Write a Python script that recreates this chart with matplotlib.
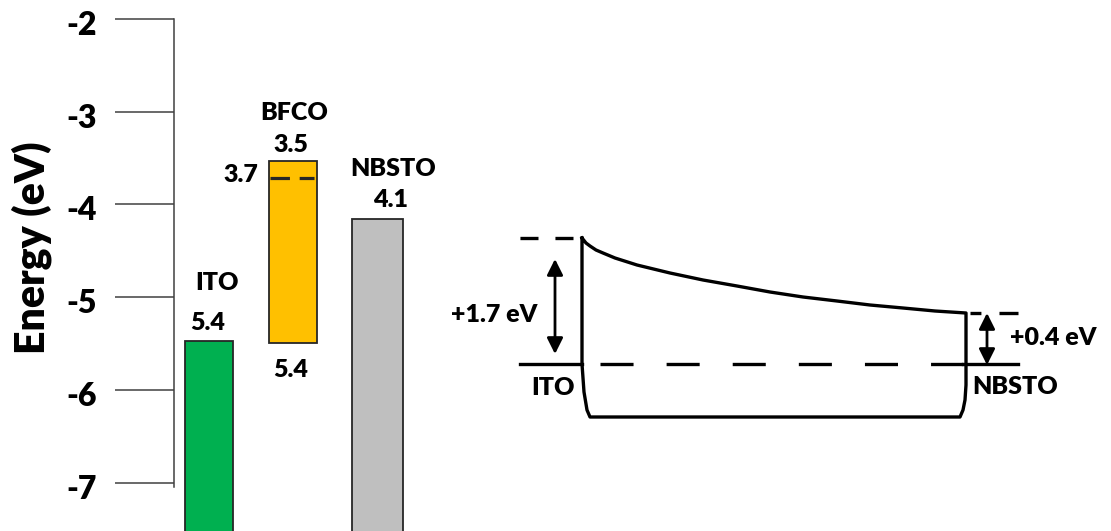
import matplotlib
matplotlib.use('Agg')
import matplotlib.pyplot as plt
from matplotlib.transforms import ScaledTranslation

plt.rcParams['font.family'] = ['Lato', 'DejaVu Sans']
plt.rcParams['font.weight'] = 'heavy'
plt.rcParams['axes.unicode_minus'] = False
plt.rcParams['lines.scale_dashes'] = False

# ---- energy-level diagram data (eV)
materials = ['ITO', 'BFCO', 'NBSTO']
level_top = [-5.47, -3.53, -4.16]
level_bottom = [-7.9, -5.49, -7.9]
bar_colors = ['#00B050', '#FFC000', '#BFBFBF']
bfco_fermi = -3.72
top_labels = ['5.4', '3.5', '4.1']
yticks = [-7, -6, -5, -4, -3, -2]

# ---- band sketch (pixel frame of the figure)
band_x = [582, 586, 590, 596, 603, 615, 637, 670, 703, 737, 770, 803, 837, 870, 903, 935, 966,
          966, 965, 963, 960, 590, 587, 584, 582, 582]
band_y = [238, 243, 246, 250, 253, 258, 265, 273, 280, 286, 292, 297, 301, 305, 308, 311, 313,
          385, 400, 410, 417, 417, 410, 392, 364, 238]
ito_level = 364
barrier_left = 238
barrier_right = 313

fig = plt.figure(figsize=(11.11, 5.31), dpi=100)
ax = fig.add_axes([174 / 1111, 0, 276 / 1111, 1])

x = [1, 2, 3]
heights = [t - b for t, b in zip(level_top, level_bottom)]
ax.bar(x, heights, bottom=level_bottom, width=[0.57, 0.57, 0.6], color=bar_colors,
       edgecolor='#262626', linewidth=1.3, zorder=2)
ax.hlines(bfco_fermi, 2 - 0.27, 2 + 0.25, colors='#262626', linewidth=2.3,
          linestyles=(0, (14, 7)), zorder=3)

ax.set_xlim(0.585, 3.861)
ax.set_ylim(-7.523, -1.795)
ax.set_yticks(yticks)
ax.set_yticklabels([str(t) for t in yticks], fontsize=23, fontweight='heavy')
ax.tick_params(axis='y', direction='out', length=42.5, width=1.1, color='#404040', pad=13)
off = ScaledTranslation(0, -4 / 100, fig.dpi_scale_trans)
for lbl in ax.get_yticklabels():
    lbl.set_transform(lbl.get_transform() + off)
ax.set_xticks([])
for s in ['top', 'right', 'bottom']:
    ax.spines[s].set_visible(False)
ax.spines['left'].set_bounds(-7.05, -2)
ax.spines['left'].set_linewidth(1.1)
ax.spines['left'].set_color('#404040')
ax.patch.set_alpha(0)
ax.set_ylabel('Energy (eV)', fontsize=29.5, fontweight='heavy')
ax.yaxis.set_label_coords(-0.442, 0.533)

fs = 18
ax.text(1.095, -4.85, 'ITO', ha='center', va='center', fontsize=fs)
ax.text(2.01, -3.01, 'BFCO', ha='center', va='center', fontsize=fs)
ax.text(3.18, -3.62, 'NBSTO', ha='center', va='center', fontsize=fs)
for xi, yi, lab in zip([0.98, 1.97, 3.15], [-5.28, -3.36, -3.95], top_labels):
    ax.text(xi, yi, lab, ha='center', va='center', fontsize=fs)
ax.text(1.585, -3.68, '3.7', ha='right', va='center', fontsize=fs)
ax.text(1.97, -5.79, '5.4', ha='center', va='center', fontsize=fs)

# ---- band sketch on an overlay in pixel units
bx = fig.add_axes([0, 0, 1, 1])
bx.set_xlim(0, 1111)
bx.set_ylim(531, 0)
bx.axis('off')
bx.patch.set_alpha(0)
lw = 2.4
bx.plot(band_x, band_y, color='black', lw=lw, solid_joinstyle='round')
bx.plot([520, 582], [ito_level, ito_level], color='black', lw=lw)
bx.plot([600, 963], [ito_level, ito_level], color='black', lw=lw, ls=(0, (23.8, 23.8)))
bx.plot([963, 1018], [ito_level, ito_level], color='black', lw=lw)
bx.plot([573, 517], [barrier_left, barrier_left], color='black', lw=lw, ls=(0, (13, 12.2)))
bx.plot([1018, 970], [barrier_right, barrier_right], color='black', lw=lw, ls=(0, (13.7, 13)))

arrow = dict(arrowstyle='<|-|>', color='black', lw=2, mutation_scale=24, shrinkA=0, shrinkB=0)
bx.annotate('', xy=(555, 259), xytext=(555, 354), arrowprops=arrow)
bx.annotate('', xy=(987, 313), xytext=(987, 365), arrowprops=arrow)

bx.text(537, 315, '+1.7 eV', ha='right', va='center', fontsize=fs)
bx.text(575, 388, 'ITO', ha='right', va='center', fontsize=fs)
bx.text(1010, 338, '+0.4 eV', ha='left', va='center', fontsize=fs)
bx.text(972, 387, 'NBSTO', ha='left', va='center', fontsize=fs)

fig.savefig('out.png', dpi=100)
